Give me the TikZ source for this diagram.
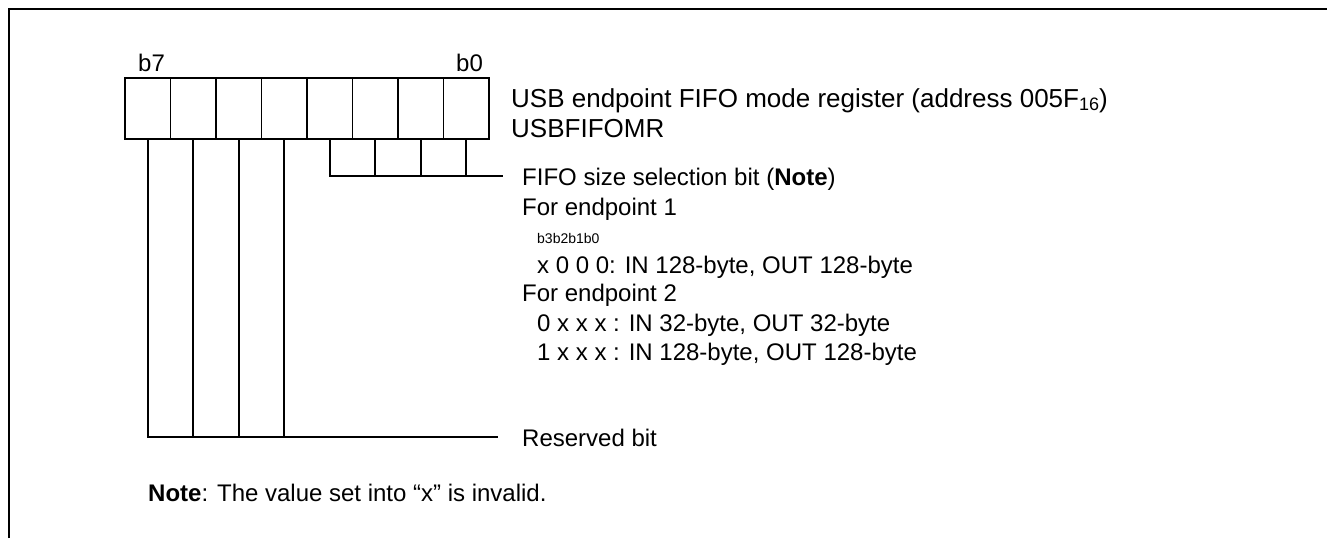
\documentclass[tikz,border=0pt]{standalone}
\usepackage{fontspec}
\setmainfont{Liberation Sans}
\begin{document}
\begin{tikzpicture}[x=1pt,y=1pt,
  ln/.style={line width=1.8pt},
  cell/.style={draw,line width=1.8pt,minimum width=45.5pt,minimum height=61pt,inner sep=0pt,outer sep=0pt},
  txt/.style={anchor=base west,inner sep=0pt,font=\fontsize{24}{29}\selectfont},
  big/.style={anchor=base west,inner sep=0pt,font=\fontsize{26}{30}\selectfont},
  small/.style={anchor=base west,inner sep=0pt,font=\fontsize{14}{16}\selectfont}]
\useasboundingbox (0,0) rectangle (1327,-538);
\draw[line width=2pt] (9,-538) -- (9,-9) -- (1327,-9);
% register cells b7..b0
\foreach \i/\n in {0/7,1/6,2/5,3/4,4/3,5/2,6/1,7/0}{
  \node[cell] (c\n) at ({125+45.5*\i+22.75},-108.5) {};
}
\node[txt] (lb7) at (138,-71) {b7};
\node[txt] (lb0) at (456,-71) {b0};
\node[big] (title) at (511,-107) {USB endpoint FIFO mode register (address 005F\raisebox{-0.25ex}{\fontsize{18}{20}\selectfont 16})};
\node[big] (abbr) at (511,-137) {USBFIFOMR};
% FIFO size selection bits
\node[txt] (fifo) at (522,-185) {FIFO size selection bit (\textbf{Note})};
\node[txt] (ep1) at (522,-215) {For endpoint 1};
\node[small] (bits) at (537,-243) {b3b2b1b0};
\node[txt] (v1) at (537,-273) {x 0 0 0: IN 128-byte, OUT 128-byte};
\node[txt] (ep2) at (522,-301) {For endpoint 2};
\node[txt] (v2) at (537,-331) {0 x x x : IN 32-byte, OUT 32-byte};
\node[txt] (v3) at (537,-360) {1 x x x : IN 128-byte, OUT 128-byte};
\coordinate (fifoEnd) at (503,-176);
\draw[ln] (c3.south) |- (fifoEnd);
\foreach \n in {2,1,0}{ \draw[ln] (c\n.south) -- (c\n.south |- fifoEnd); }
% reserved bits
\node[txt] (res) at (522,-446) {Reserved bit};
\coordinate (resEnd) at (498,-437);
\draw[ln] (c7.south) |- (resEnd);
\foreach \n in {6,5,4}{ \draw[ln] (c\n.south) -- (c\n.south |- resEnd); }
\node[txt] (note) at (148,-501) {\textbf{Note}: The value set into “x” is invalid.};
\end{tikzpicture}
\end{document}
